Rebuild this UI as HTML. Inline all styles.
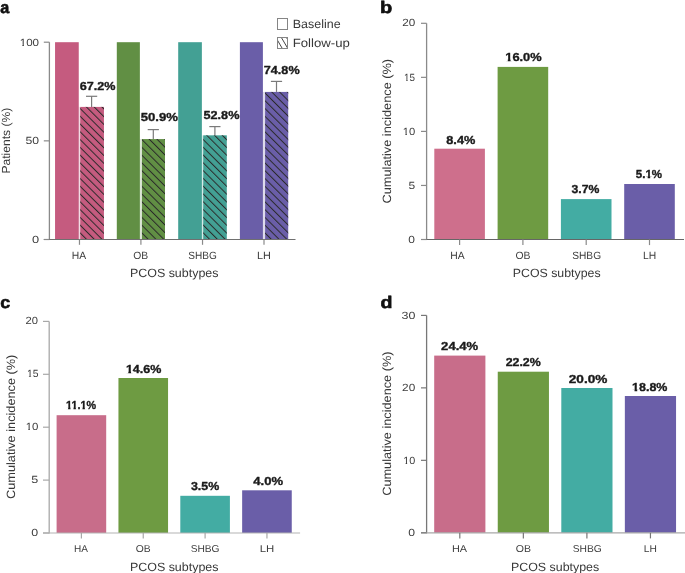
<!DOCTYPE html>
<html><head><meta charset="utf-8"><style>
html,body{margin:0;padding:0;background:#fff;width:685px;height:573px;overflow:hidden}
svg{display:block;will-change:transform}
text{font-family:"Liberation Sans",sans-serif;text-rendering:geometricPrecision}
</style></head><body>
<svg width="685" height="573" viewBox="0 0 685 573">
<defs><pattern id="hatch0" patternUnits="userSpaceOnUse" x="1.480" y="0" width="5.501" height="10" patternTransform="rotate(-45)"><rect x="0" y="-1" width="1.0" height="12" fill="#2a2a2a"/></pattern><pattern id="hatch1" patternUnits="userSpaceOnUse" x="1.126" y="0" width="5.501" height="10" patternTransform="rotate(-45)"><rect x="0" y="-1" width="1.0" height="12" fill="#2a2a2a"/></pattern><pattern id="hatch2" patternUnits="userSpaceOnUse" x="0.525" y="0" width="5.501" height="10" patternTransform="rotate(-45)"><rect x="0" y="-1" width="1.0" height="12" fill="#2a2a2a"/></pattern><pattern id="hatch3" patternUnits="userSpaceOnUse" x="0.136" y="0" width="5.501" height="10" patternTransform="rotate(-45)"><rect x="0" y="-1" width="1.0" height="12" fill="#2a2a2a"/></pattern></defs>
<rect x="0" y="0" width="685" height="573" fill="#fff"/>
<rect x="55.05" y="42.20" width="23.70" height="197.30" fill="#C55B7F" />
<rect x="78.75" y="106.91" width="1.45" height="132.59" fill="#C55B7F" fill-opacity="0.22"/>
<line x1="91.60" y1="96.30" x2="91.60" y2="106.91" stroke="#7a7a7a" stroke-width="1.2"/>
<line x1="86.00" y1="96.30" x2="97.20" y2="96.30" stroke="#7a7a7a" stroke-width="1.2"/>
<rect x="80.20" y="106.91" width="23.75" height="132.59" fill="#C55B7F" />
<rect x="80.20" y="106.91" width="23.75" height="132.59" fill="url(#hatch0)" />
<rect x="116.80" y="42.20" width="23.07" height="197.30" fill="#618F44" />
<rect x="139.87" y="139.07" width="2.08" height="100.43" fill="#618F44" fill-opacity="0.22"/>
<line x1="153.30" y1="129.60" x2="153.30" y2="139.07" stroke="#7a7a7a" stroke-width="1.2"/>
<line x1="147.70" y1="129.60" x2="158.90" y2="129.60" stroke="#7a7a7a" stroke-width="1.2"/>
<rect x="141.95" y="139.07" width="23.05" height="100.43" fill="#618F44" />
<rect x="141.95" y="139.07" width="23.05" height="100.43" fill="url(#hatch1)" />
<rect x="178.20" y="42.20" width="23.67" height="197.30" fill="#43A094" />
<rect x="201.87" y="135.33" width="1.33" height="104.17" fill="#43A094" fill-opacity="0.22"/>
<line x1="214.90" y1="126.60" x2="214.90" y2="135.33" stroke="#7a7a7a" stroke-width="1.2"/>
<line x1="209.30" y1="126.60" x2="220.50" y2="126.60" stroke="#7a7a7a" stroke-width="1.2"/>
<rect x="203.20" y="135.33" width="23.60" height="104.17" fill="#43A094" />
<rect x="203.20" y="135.33" width="23.60" height="104.17" fill="url(#hatch2)" />
<rect x="239.90" y="42.20" width="23.00" height="197.30" fill="#6A5EA8" />
<rect x="262.90" y="91.92" width="2.20" height="147.58" fill="#6A5EA8" fill-opacity="0.22"/>
<line x1="276.50" y1="81.40" x2="276.50" y2="91.92" stroke="#7a7a7a" stroke-width="1.2"/>
<line x1="270.90" y1="81.40" x2="282.10" y2="81.40" stroke="#7a7a7a" stroke-width="1.2"/>
<rect x="265.10" y="91.92" width="23.10" height="147.58" fill="#6A5EA8" />
<rect x="265.10" y="91.92" width="23.10" height="147.58" fill="url(#hatch3)" />
<line x1="49.40" y1="42.20" x2="49.40" y2="240.00" stroke="#8a8a8a" stroke-width="1.3"/>
<line x1="43.80" y1="239.50" x2="295.50" y2="239.50" stroke="#707070" stroke-width="1.2"/>
<line x1="43.80" y1="42.20" x2="49.40" y2="42.20" stroke="#8a8a8a" stroke-width="1.2"/>
<line x1="43.80" y1="140.85" x2="49.40" y2="140.85" stroke="#8a8a8a" stroke-width="1.2"/>
<line x1="43.80" y1="239.50" x2="49.40" y2="239.50" stroke="#8a8a8a" stroke-width="1.2"/>
<line x1="79.47" y1="239.50" x2="79.47" y2="244.80" stroke="#8a8a8a" stroke-width="1.2"/>
<line x1="140.91" y1="239.50" x2="140.91" y2="244.80" stroke="#8a8a8a" stroke-width="1.2"/>
<line x1="202.53" y1="239.50" x2="202.53" y2="244.80" stroke="#8a8a8a" stroke-width="1.2"/>
<line x1="264.00" y1="239.50" x2="264.00" y2="244.80" stroke="#8a8a8a" stroke-width="1.2"/>
<rect x="277.5" y="18.5" width="10" height="11" fill="#fff" stroke="#858585" stroke-width="1"/>
<svg x="277.5" y="37.5" width="10" height="11" viewBox="277.5 37.5 10 11" overflow="hidden"><path d="M274.98,36 L283.21,50 M280.48,36 L288.71,50 M285.58,36 L293.81,50" stroke="#151515" stroke-width="0.8" fill="none"/></svg>
<rect x="277.5" y="37.5" width="10" height="11" fill="none" stroke="#858585" stroke-width="1"/>
<rect x="434.30" y="148.70" width="50.60" height="90.80" fill="#CE6F8C" />
<rect x="497.60" y="66.90" width="50.60" height="172.60" fill="#6E9B42" />
<rect x="560.90" y="199.10" width="50.60" height="40.40" fill="#43ACA3" />
<rect x="624.20" y="184.00" width="50.60" height="55.50" fill="#6A5EA8" />
<line x1="426.60" y1="23.30" x2="426.60" y2="240.00" stroke="#8a8a8a" stroke-width="1.3"/>
<line x1="421.00" y1="239.50" x2="684.00" y2="239.50" stroke="#666" stroke-width="1.2"/>
<line x1="421.00" y1="239.50" x2="426.60" y2="239.50" stroke="#8a8a8a" stroke-width="1.2"/>
<line x1="421.00" y1="185.45" x2="426.60" y2="185.45" stroke="#8a8a8a" stroke-width="1.2"/>
<line x1="421.00" y1="131.40" x2="426.60" y2="131.40" stroke="#8a8a8a" stroke-width="1.2"/>
<line x1="421.00" y1="77.35" x2="426.60" y2="77.35" stroke="#8a8a8a" stroke-width="1.2"/>
<line x1="421.00" y1="23.30" x2="426.60" y2="23.30" stroke="#8a8a8a" stroke-width="1.2"/>
<line x1="459.60" y1="239.50" x2="459.60" y2="245.10" stroke="#8a8a8a" stroke-width="1.2"/>
<line x1="522.90" y1="239.50" x2="522.90" y2="245.10" stroke="#8a8a8a" stroke-width="1.2"/>
<line x1="586.20" y1="239.50" x2="586.20" y2="245.10" stroke="#8a8a8a" stroke-width="1.2"/>
<line x1="649.50" y1="239.50" x2="649.50" y2="245.10" stroke="#8a8a8a" stroke-width="1.2"/>
<rect x="56.60" y="415.20" width="49.60" height="117.80" fill="#C86D8A" />
<rect x="118.45" y="378.00" width="49.60" height="155.00" fill="#6E9B42" />
<rect x="180.30" y="495.80" width="49.60" height="37.20" fill="#43ACA3" />
<rect x="242.15" y="490.30" width="49.60" height="42.70" fill="#6A5EA8" />
<line x1="49.20" y1="321.40" x2="49.20" y2="533.50" stroke="#a8a8a8" stroke-width="1.3"/>
<line x1="43.00" y1="533.00" x2="300.10" y2="533.00" stroke="#b4b4b4" stroke-width="1.2"/>
<line x1="43.00" y1="533.00" x2="49.20" y2="533.00" stroke="#a8a8a8" stroke-width="1.2"/>
<line x1="43.00" y1="480.10" x2="49.20" y2="480.10" stroke="#a8a8a8" stroke-width="1.2"/>
<line x1="43.00" y1="427.20" x2="49.20" y2="427.20" stroke="#a8a8a8" stroke-width="1.2"/>
<line x1="43.00" y1="374.30" x2="49.20" y2="374.30" stroke="#a8a8a8" stroke-width="1.2"/>
<line x1="43.00" y1="321.40" x2="49.20" y2="321.40" stroke="#a8a8a8" stroke-width="1.2"/>
<line x1="81.40" y1="533.00" x2="81.40" y2="538.60" stroke="#a8a8a8" stroke-width="1.2"/>
<line x1="143.25" y1="533.00" x2="143.25" y2="538.60" stroke="#a8a8a8" stroke-width="1.2"/>
<line x1="205.10" y1="533.00" x2="205.10" y2="538.60" stroke="#a8a8a8" stroke-width="1.2"/>
<line x1="266.95" y1="533.00" x2="266.95" y2="538.60" stroke="#a8a8a8" stroke-width="1.2"/>
<rect x="434.20" y="355.60" width="51.20" height="177.20" fill="#C86D8A" />
<rect x="497.75" y="371.70" width="51.20" height="161.10" fill="#6E9B42" />
<rect x="561.30" y="388.00" width="51.20" height="144.80" fill="#43ACA3" />
<rect x="624.85" y="396.00" width="51.20" height="136.80" fill="#6A5EA8" />
<line x1="426.60" y1="315.40" x2="426.60" y2="533.30" stroke="#777" stroke-width="1.3"/>
<line x1="421.00" y1="532.80" x2="685.00" y2="532.80" stroke="#a8a8a8" stroke-width="1.2"/>
<line x1="421.00" y1="532.80" x2="426.60" y2="532.80" stroke="#777" stroke-width="1.2"/>
<line x1="421.00" y1="460.33" x2="426.60" y2="460.33" stroke="#777" stroke-width="1.2"/>
<line x1="421.00" y1="387.87" x2="426.60" y2="387.87" stroke="#777" stroke-width="1.2"/>
<line x1="421.00" y1="315.40" x2="426.60" y2="315.40" stroke="#777" stroke-width="1.2"/>
<line x1="459.80" y1="532.80" x2="459.80" y2="538.40" stroke="#777" stroke-width="1.2"/>
<line x1="523.35" y1="532.80" x2="523.35" y2="538.40" stroke="#777" stroke-width="1.2"/>
<line x1="586.90" y1="532.80" x2="586.90" y2="538.40" stroke="#777" stroke-width="1.2"/>
<line x1="650.45" y1="532.80" x2="650.45" y2="538.40" stroke="#777" stroke-width="1.2"/>
<g transform="translate(0.31,12.50) scale(0.9659,1)"><text font-size="16.8" font-weight="700" fill="#111" stroke="#111" stroke-width="0.6" stroke-linejoin="round">a</text></g>
<g transform="translate(379.90,12.50) scale(1.1905,1)"><text font-size="16.8" font-weight="700" fill="#111" stroke="#111" stroke-width="0.6" stroke-linejoin="round">b</text></g>
<g transform="translate(0.28,307.60) scale(1.0677,1)"><text font-size="16.8" font-weight="700" fill="#111" stroke="#111" stroke-width="0.6" stroke-linejoin="round">c</text></g>
<g transform="translate(380.42,307.60) scale(1.1669,1)"><text font-size="16.8" font-weight="700" fill="#111" stroke="#111" stroke-width="0.6" stroke-linejoin="round">d</text></g>
<g transform="translate(19.68,45.50) scale(1.1190,1)"><text font-size="10.4" font-weight="400" fill="#3d3d3d">100</text><rect x="-0.21" y="-1.13" width="2.52" height="2.13" fill="#fff"/><rect x="3.83" y="-1.13" width="2.44" height="2.13" fill="#fff"/></g>
<g transform="translate(25.51,144.30) scale(1.1752,1)"><text font-size="10.4" font-weight="400" fill="#3d3d3d">50</text></g>
<g transform="translate(31.89,242.90) scale(1.2348,1)"><text font-size="10.4" font-weight="400" fill="#3d3d3d">0</text></g>
<g transform="translate(402.21,26.05) scale(1.1257,1)"><text font-size="10.4" font-weight="400" fill="#3d3d3d">20</text></g>
<g transform="translate(404.05,80.90) scale(0.9479,1)"><text font-size="10.4" font-weight="400" fill="#3d3d3d">15</text><rect x="-0.21" y="-1.13" width="2.52" height="2.13" fill="#fff"/><rect x="3.83" y="-1.13" width="2.44" height="2.13" fill="#fff"/></g>
<g transform="translate(402.82,134.50) scale(1.0806,1)"><text font-size="10.4" font-weight="400" fill="#3d3d3d">10</text><rect x="-0.21" y="-1.13" width="2.52" height="2.13" fill="#fff"/><rect x="3.83" y="-1.13" width="2.44" height="2.13" fill="#fff"/></g>
<g transform="translate(408.47,188.90) scale(1.1538,1)"><text font-size="10.4" font-weight="400" fill="#3d3d3d">5</text></g>
<g transform="translate(408.22,242.60) scale(1.1538,1)"><text font-size="10.4" font-weight="400" fill="#3d3d3d">0</text></g>
<g transform="translate(25.54,324.30) scale(1.0788,1)"><text font-size="10.4" font-weight="400" fill="#3d3d3d">20</text></g>
<g transform="translate(26.90,377.20) scale(0.9973,1)"><text font-size="10.4" font-weight="400" fill="#3d3d3d">15</text><rect x="-0.21" y="-1.13" width="2.52" height="2.13" fill="#fff"/><rect x="3.83" y="-1.13" width="2.44" height="2.13" fill="#fff"/></g>
<g transform="translate(25.70,429.95) scale(1.1002,1)"><text font-size="10.4" font-weight="400" fill="#3d3d3d">10</text><rect x="-0.21" y="-1.13" width="2.52" height="2.13" fill="#fff"/><rect x="3.83" y="-1.13" width="2.44" height="2.13" fill="#fff"/></g>
<g transform="translate(31.35,483.20) scale(1.2045,1)"><text font-size="10.4" font-weight="400" fill="#3d3d3d">5</text></g>
<g transform="translate(31.20,536.30) scale(1.1943,1)"><text font-size="10.4" font-weight="400" fill="#3d3d3d">0</text></g>
<g transform="translate(401.60,318.60) scale(1.1984,1)"><text font-size="10.4" font-weight="400" fill="#3d3d3d">30</text></g>
<g transform="translate(402.11,391.00) scale(1.1351,1)"><text font-size="10.4" font-weight="400" fill="#3d3d3d">20</text></g>
<g transform="translate(403.16,463.50) scale(1.0413,1)"><text font-size="10.4" font-weight="400" fill="#3d3d3d">10</text><rect x="-0.21" y="-1.13" width="2.52" height="2.13" fill="#fff"/><rect x="3.83" y="-1.13" width="2.44" height="2.13" fill="#fff"/></g>
<g transform="translate(408.21,536.10) scale(1.1741,1)"><text font-size="10.4" font-weight="400" fill="#3d3d3d">0</text></g>
<text transform="translate(9.95,173.57) rotate(-90) scale(1.0343,1)" font-size="11.7" font-weight="400" fill="#383838">Patients (%)</text>
<text transform="translate(391.00,203.44) rotate(-90) scale(1.0624,1)" font-size="12.0" font-weight="400" fill="#383838">Cumulative incidence (%)</text>
<text transform="translate(15.20,498.94) rotate(-90) scale(1.0601,1)" font-size="12.0" font-weight="400" fill="#383838">Cumulative incidence (%)</text>
<text transform="translate(391.00,495.74) rotate(-90) scale(1.0601,1)" font-size="12.0" font-weight="400" fill="#383838">Cumulative incidence (%)</text>
<g transform="translate(71.87,258.60) scale(0.9852,1)"><text font-size="10.5" font-weight="400" fill="#3d3d3d">HA</text></g>
<g transform="translate(133.23,258.60) scale(0.9842,1)"><text font-size="10.5" font-weight="400" fill="#3d3d3d">OB</text></g>
<g transform="translate(188.25,258.60) scale(0.9576,1)"><text font-size="10.5" font-weight="400" fill="#3d3d3d">SHBG</text></g>
<g transform="translate(257.03,258.60) scale(1.0335,1)"><text font-size="10.5" font-weight="400" fill="#3d3d3d">LH</text></g>
<g transform="translate(450.17,258.60) scale(0.9852,1)"><text font-size="10.5" font-weight="400" fill="#3d3d3d">HA</text></g>
<g transform="translate(515.43,258.60) scale(0.9913,1)"><text font-size="10.5" font-weight="400" fill="#3d3d3d">OB</text></g>
<g transform="translate(572.24,258.60) scale(0.9682,1)"><text font-size="10.5" font-weight="400" fill="#3d3d3d">SHBG</text></g>
<g transform="translate(642.97,258.60) scale(0.9823,1)"><text font-size="10.5" font-weight="400" fill="#3d3d3d">LH</text></g>
<g transform="translate(74.00,551.90) scale(1.0038,1)"><text font-size="10.0" font-weight="400" fill="#3d3d3d">HA</text></g>
<g transform="translate(135.63,551.90) scale(1.0335,1)"><text font-size="10.0" font-weight="400" fill="#3d3d3d">OB</text></g>
<g transform="translate(190.64,551.90) scale(1.0203,1)"><text font-size="10.0" font-weight="400" fill="#3d3d3d">SHBG</text></g>
<g transform="translate(259.79,551.90) scale(1.1390,1)"><text font-size="10.0" font-weight="400" fill="#3d3d3d">LH</text></g>
<g transform="translate(451.93,551.90) scale(1.0881,1)"><text font-size="10.0" font-weight="400" fill="#3d3d3d">HA</text></g>
<g transform="translate(515.72,551.90) scale(1.0558,1)"><text font-size="10.0" font-weight="400" fill="#3d3d3d">OB</text></g>
<g transform="translate(572.64,551.90) scale(1.0276,1)"><text font-size="10.0" font-weight="400" fill="#3d3d3d">SHBG</text></g>
<g transform="translate(643.78,551.90) scale(1.0224,1)"><text font-size="10.0" font-weight="400" fill="#3d3d3d">LH</text></g>
<g transform="translate(129.90,277.10) scale(1.0376,1)"><text font-size="12.0" font-weight="400" fill="#383838">PCOS subtypes</text></g>
<g transform="translate(512.81,277.20) scale(1.0281,1)"><text font-size="12.0" font-weight="400" fill="#383838">PCOS subtypes</text></g>
<g transform="translate(129.90,570.50) scale(1.0376,1)"><text font-size="12.0" font-weight="400" fill="#383838">PCOS subtypes</text></g>
<g transform="translate(510.91,570.70) scale(1.0341,1)"><text font-size="12.0" font-weight="400" fill="#383838">PCOS subtypes</text></g>
<g transform="translate(292.80,27.80) scale(1.0377,1)"><text font-size="12.0" font-weight="400" fill="#383838">Baseline</text></g>
<g transform="translate(292.75,46.50) scale(1.0973,1)"><text font-size="12.0" font-weight="400" fill="#383838">Follow-up</text></g>
<g transform="translate(79.73,90.23) scale(1.0857,1)"><text font-size="11.6" font-weight="700" fill="#1a1a1a" stroke="#1a1a1a" stroke-width="0.35" stroke-linejoin="round">67.2%</text></g>
<g transform="translate(140.68,121.12) scale(1.1334,1)"><text font-size="11.6" font-weight="700" fill="#1a1a1a" stroke="#1a1a1a" stroke-width="0.35" stroke-linejoin="round">50.9%</text></g>
<g transform="translate(203.49,118.53) scale(1.0931,1)"><text font-size="11.6" font-weight="700" fill="#1a1a1a" stroke="#1a1a1a" stroke-width="0.35" stroke-linejoin="round">52.8%</text></g>
<g transform="translate(263.81,73.83) scale(1.0897,1)"><text font-size="11.6" font-weight="700" fill="#1a1a1a" stroke="#1a1a1a" stroke-width="0.35" stroke-linejoin="round">74.8%</text></g>
<g transform="translate(446.29,143.62) scale(1.0984,1)"><text font-size="11.6" font-weight="700" fill="#1a1a1a" stroke="#1a1a1a" stroke-width="0.35" stroke-linejoin="round">8.4%</text></g>
<g transform="translate(505.30,60.73) scale(1.1052,1)"><text font-size="11.6" font-weight="700" fill="#1a1a1a" stroke="#1a1a1a" stroke-width="0.35" stroke-linejoin="round">16.0%</text><rect x="-0.27" y="-1.71" width="2.50" height="2.71" fill="#fff"/><rect x="4.77" y="-1.71" width="2.35" height="2.71" fill="#fff"/></g>
<g transform="translate(571.57,193.12) scale(1.0534,1)"><text font-size="11.6" font-weight="700" fill="#1a1a1a" stroke="#1a1a1a" stroke-width="0.35" stroke-linejoin="round">3.7%</text></g>
<g transform="translate(635.83,178.22) scale(0.9938,1)"><text font-size="11.6" font-weight="700" fill="#1a1a1a" stroke="#1a1a1a" stroke-width="0.35" stroke-linejoin="round">5.1%</text><rect x="9.40" y="-1.71" width="2.50" height="2.71" fill="#fff"/><rect x="14.45" y="-1.71" width="2.35" height="2.71" fill="#fff"/></g>
<g transform="translate(66.04,408.82) scale(0.9289,1)"><text font-size="11.6" font-weight="700" fill="#1a1a1a" stroke="#1a1a1a" stroke-width="0.35" stroke-linejoin="round">11.1%</text><rect x="-0.27" y="-1.71" width="2.50" height="2.71" fill="#fff"/><rect x="4.77" y="-1.71" width="2.35" height="2.71" fill="#fff"/><rect x="5.54" y="-1.71" width="2.50" height="2.71" fill="#fff"/><rect x="10.58" y="-1.71" width="2.35" height="2.71" fill="#fff"/><rect x="15.22" y="-1.71" width="2.50" height="2.71" fill="#fff"/><rect x="20.26" y="-1.71" width="2.35" height="2.71" fill="#fff"/></g>
<g transform="translate(125.92,372.62) scale(1.0769,1)"><text font-size="11.6" font-weight="700" fill="#1a1a1a" stroke="#1a1a1a" stroke-width="0.35" stroke-linejoin="round">14.6%</text><rect x="-0.27" y="-1.71" width="2.50" height="2.71" fill="#fff"/><rect x="4.77" y="-1.71" width="2.35" height="2.71" fill="#fff"/></g>
<g transform="translate(190.97,489.72) scale(1.0689,1)"><text font-size="11.6" font-weight="700" fill="#1a1a1a" stroke="#1a1a1a" stroke-width="0.35" stroke-linejoin="round">3.5%</text></g>
<g transform="translate(253.28,484.72) scale(1.1257,1)"><text font-size="11.6" font-weight="700" fill="#1a1a1a" stroke="#1a1a1a" stroke-width="0.35" stroke-linejoin="round">4.0%</text></g>
<g transform="translate(441.12,349.62) scale(1.1261,1)"><text font-size="11.6" font-weight="700" fill="#1a1a1a" stroke="#1a1a1a" stroke-width="0.35" stroke-linejoin="round">24.4%</text></g>
<g transform="translate(505.64,366.12) scale(1.0671,1)"><text font-size="11.6" font-weight="700" fill="#1a1a1a" stroke="#1a1a1a" stroke-width="0.35" stroke-linejoin="round">22.2%</text></g>
<g transform="translate(568.80,382.93) scale(1.1727,1)"><text font-size="11.6" font-weight="700" fill="#1a1a1a" stroke="#1a1a1a" stroke-width="0.35" stroke-linejoin="round">20.0%</text></g>
<g transform="translate(632.12,391.02) scale(1.0738,1)"><text font-size="11.6" font-weight="700" fill="#1a1a1a" stroke="#1a1a1a" stroke-width="0.35" stroke-linejoin="round">18.8%</text><rect x="-0.27" y="-1.71" width="2.50" height="2.71" fill="#fff"/><rect x="4.77" y="-1.71" width="2.35" height="2.71" fill="#fff"/></g>
</svg>
</body></html>
